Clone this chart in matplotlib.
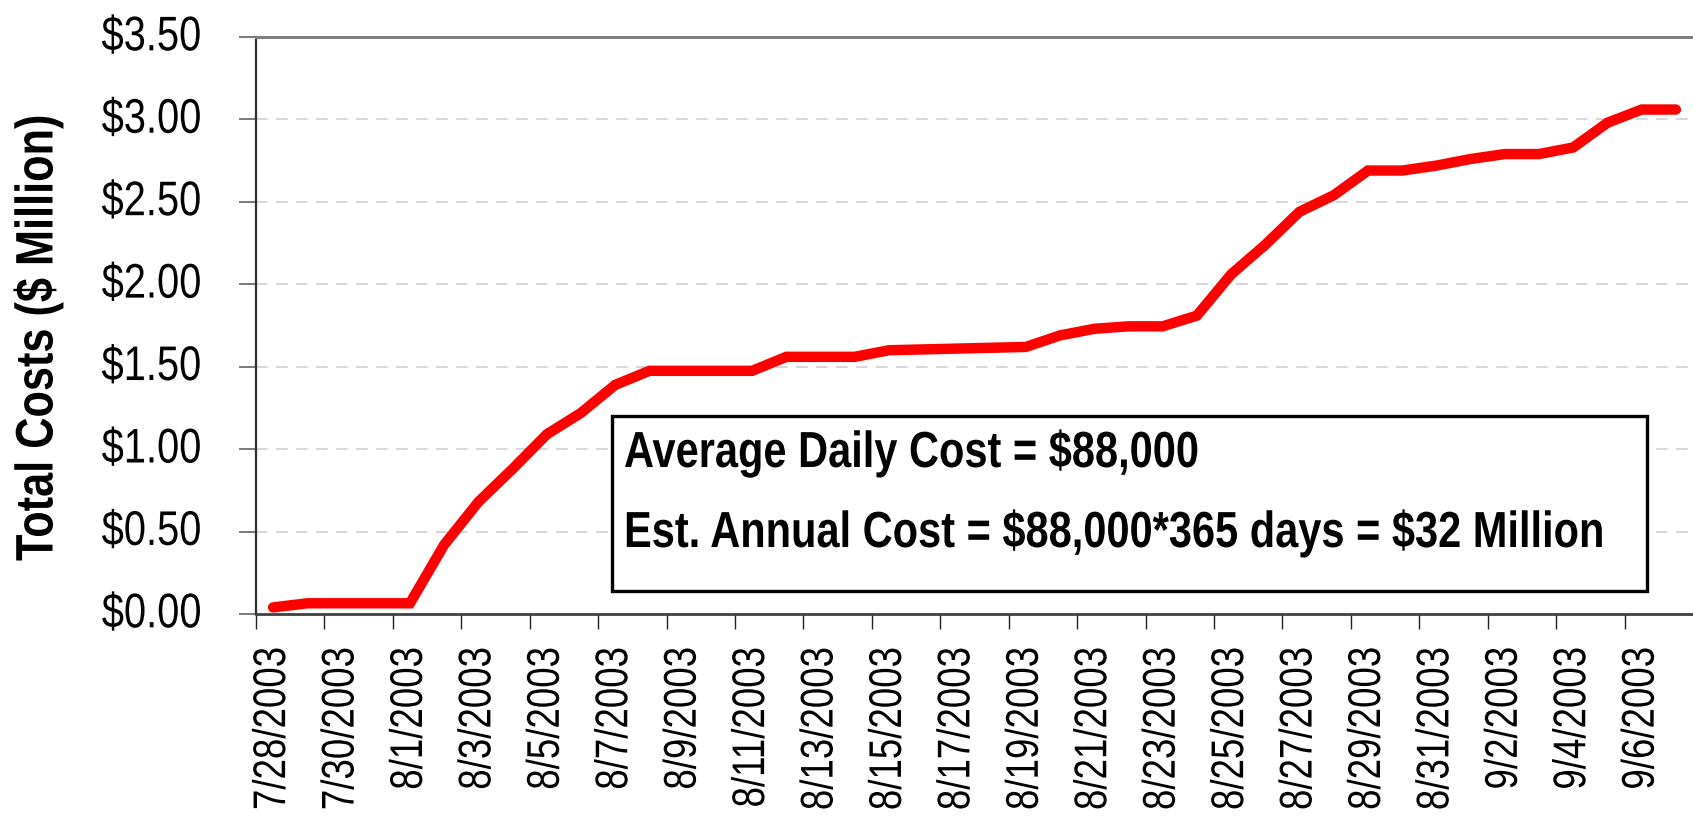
import matplotlib
matplotlib.use("Agg")
from matplotlib import pyplot as plt
from matplotlib.patches import Rectangle
from matplotlib.patheffects import AbstractPathEffect
from matplotlib.ticker import FixedLocator, FuncFormatter
from matplotlib.transforms import Affine2D, ScaledTranslation

dates = ["7/28/2003", "7/29/2003", "7/30/2003", "7/31/2003",
         "8/1/2003", "8/2/2003", "8/3/2003", "8/4/2003", "8/5/2003", "8/6/2003",
         "8/7/2003", "8/8/2003", "8/9/2003", "8/10/2003", "8/11/2003", "8/12/2003",
         "8/13/2003", "8/14/2003", "8/15/2003", "8/16/2003", "8/17/2003", "8/18/2003",
         "8/19/2003", "8/20/2003", "8/21/2003", "8/22/2003", "8/23/2003", "8/24/2003",
         "8/25/2003", "8/26/2003", "8/27/2003", "8/28/2003", "8/29/2003", "8/30/2003",
         "8/31/2003", "9/1/2003", "9/2/2003", "9/3/2003", "9/4/2003", "9/5/2003",
         "9/6/2003", "9/7/2003"]
total_costs = [0.04, 0.065, 0.065, 0.065, 0.065, 0.42, 0.68, 0.88, 1.09, 1.22,
               1.39, 1.475, 1.475, 1.475, 1.475, 1.56, 1.56, 1.56, 1.60, 1.605,
               1.61, 1.615, 1.62, 1.69, 1.73, 1.745, 1.745, 1.81, 2.06, 2.24,
               2.44, 2.54, 2.69, 2.69, 2.72, 2.76, 2.79, 2.79, 2.83, 2.98,
               3.06, 3.06]
y_ticks = [0.0, 0.5, 1.0, 1.5, 2.0, 2.5, 3.0, 3.5]
note_lines = [r"Average Daily Cost = \$88,000",
              r"Est. Annual Cost = \$88,000*365 days = \$32 Million"]


class Narrow(AbstractPathEffect):
    """Squeeze glyphs sideways so Liberation Sans looks like Arial Narrow."""

    def __init__(self, sx=0.82, keep_end=False):
        super().__init__()
        self.sx = sx
        self.keep_end = keep_end

    def draw_path(self, renderer, gc, tpath, affine, rgbFace=None):
        x0 = tpath.get_extents().x1 if self.keep_end else 0
        squeeze = Affine2D().translate(-x0, 0).scale(self.sx, 1).translate(x0, 0)
        renderer.draw_path(gc, tpath, squeeze + affine, rgbFace)


plt.rcParams["font.family"] = ["Liberation Sans", "DejaVu Sans"]

fig = plt.figure(figsize=(16.93, 8.24), dpi=100)
ax = fig.add_axes([256 / 1693, 1 - 614 / 824, 1 - 256 / 1693, 577 / 824])

x = list(range(len(dates)))
ax.plot(x, total_costs, color="#ff0000", linewidth=7.5,
        solid_capstyle="round", solid_joinstyle="miter", zorder=3)

ax.set_xlim(-0.5, len(dates) - 0.5)
ax.set_ylim(0, 3.5)

# y axis
ax.set_yticks(y_ticks)
ax.yaxis.set_major_formatter(FuncFormatter(lambda v, p: "${:.2f}".format(v)))
ax.tick_params(axis="y", length=12, width=1.3, color="#707070",
               labelsize=35, pad=27)
lift = ScaledTranslation(0, 3 / 72, fig.dpi_scale_trans)
for lab in ax.get_yticklabels():
    lab.set_path_effects([Narrow(keep_end=True)])
    lab.set_transform(lab.get_transform() + lift)
for v in y_ticks[1:-1]:
    ax.axhline(v, color="#d0d0d0", linewidth=1.2, linestyle=(0, (7, 5)), zorder=1)

# x axis: ticks on category boundaries, labels at category centres
ax.xaxis.set_major_locator(FixedLocator([i - 0.5 for i in range(0, len(dates), 2)]))
ax.xaxis.set_major_formatter(FuncFormatter(lambda v, p: ""))
ax.xaxis.set_minor_locator(FixedLocator(list(range(0, len(dates), 2))))
ax.xaxis.set_minor_formatter(FuncFormatter(lambda v, p: dates[int(round(v))]))
ax.tick_params(axis="x", which="major", length=11, width=1.0, color="#202020")
ax.tick_params(axis="x", which="minor", length=0, labelsize=33, pad=23.5,
               labelrotation=90)
for lab in ax.get_xticklabels(minor=True):
    lab.set_path_effects([Narrow(sx=0.8, keep_end=True)])

ax.spines["right"].set_visible(False)
ax.spines["top"].set_color("#808080")
ax.spines["top"].set_linewidth(2.2)
ax.spines["left"].set_color("#303030")
ax.spines["left"].set_linewidth(1.6)
ax.spines["bottom"].set_color("#404040")
ax.spines["bottom"].set_linewidth(2.0)

fig.text(38 / 1693, 1 - 561 / 824, "Total Costs ($ Million)", rotation=90,
         rotation_mode="anchor", ha="left", va="center", fontsize=38,
         fontweight="bold", path_effects=[Narrow()])

# note box
ax.add_patch(Rectangle((0.2477, 0.0400), 0.7203, 0.3030, transform=ax.transAxes,
                       facecolor="white", edgecolor="black", linewidth=2.4,
                       zorder=4))
for line, base in zip(note_lines, [467, 547]):
    ax.text(0.2561, (614 - base) / 577, line, transform=ax.transAxes,
            fontsize=36.5, fontweight="bold", va="baseline", zorder=5,
            path_effects=[Narrow()])

plt.savefig("out.png", dpi=100)
